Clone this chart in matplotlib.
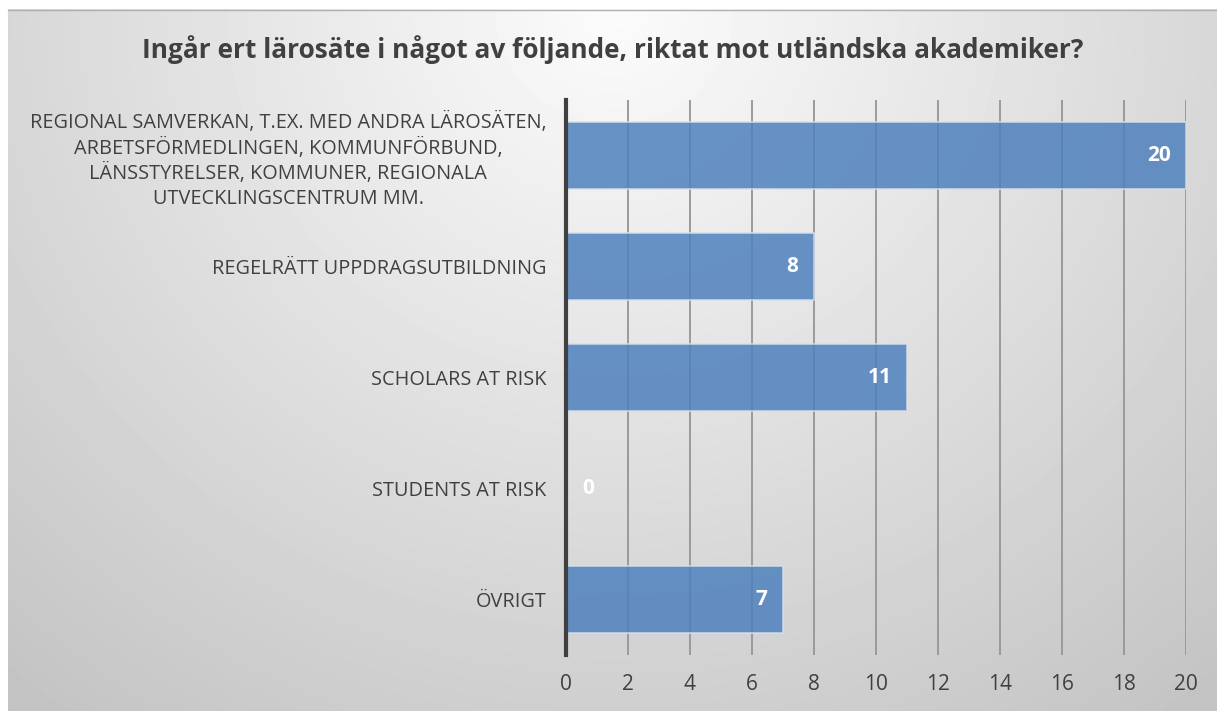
import numpy as np
import matplotlib
matplotlib.use('Agg')
import matplotlib.pyplot as plt

categories = [
    'REGIONAL SAMVERKAN, T.EX. MED ANDRA LÄROSÄTEN,\nARBETSFÖRMEDLINGEN, KOMMUNFÖRBUND,\nLÄNSSTYRELSER, KOMMUNER, REGIONALA\nUTVECKLINGSCENTRUM MM.',
    'REGELRÄTT UPPDRAGSUTBILDNING',
    'SCHOLARS AT RISK',
    'STUDENTS AT RISK',
    'ÖVRIGT',
]
values = [20, 8, 11, 0, 7]
xticks = [0, 2, 4, 6, 8, 10, 12, 14, 16, 18, 20]
title = 'Ingår ert lärosäte i något av följande, riktat mot utländska akademiker?'

plt.rcParams['font.family'] = ['Open Sans', 'DejaVu Sans']

W, H = 1217, 711
fig = plt.figure(figsize=(W / 100, H / 100), dpi=100)
fig.patch.set_facecolor('white')

# radial grey background (chart area starts a few px in from top/left)
bg = fig.add_axes([8 / W, 0, 1 - 8 / W, 1 - 9 / H])
yy, xx = np.mgrid[0:200, 0:340]
d = np.sqrt(((xx - 170) / 240.0) ** 2 + ((yy - 0) / 230.0) ** 2)
shade = 0.985 - 0.20 * np.clip(d, 0, 1.2)
bg.imshow(shade, cmap='gray', vmin=0, vmax=1, aspect='auto', interpolation='bicubic')
bg.set_axis_off()
fig.add_artist(plt.Line2D([8 / W, 1], [1 - 9.5 / H, 1 - 9.5 / H], color='#b0b0b0', lw=1))

ax = fig.add_axes([566 / W, 1 - 655 / H, (1186 - 566) / W, (655 - 100) / H])
ax.patch.set_alpha(0)
pos = np.arange(len(categories))
bars = ax.barh(pos, values, height=0.6, color='#4f81bd', alpha=0.85,
               edgecolor='#d6e0ee', linewidth=1.2, zorder=3)
ax.set_ylim(len(categories) - 0.5, -0.5)
ax.set_xlim(0, 20)
ax.set_xticks(xticks)
ax.set_xticklabels([str(t) for t in xticks], fontsize=15, color='#404040')
ax.set_yticks(pos)
ax.set_yticklabels(categories, fontsize=14.3, color='#404040', linespacing=1.3,
                   multialignment='center')
ax.tick_params(length=0, pad=14)
ax.tick_params(axis='x', pad=14)
ax.grid(axis='x', color='#9a9a9a', lw=1.4, zorder=1)
for s in ['top', 'right', 'bottom']:
    ax.spines[s].set_visible(False)
ax.spines['left'].set_color('#404040')
ax.spines['left'].set_linewidth(3)
ax.spines['left'].set_zorder(4)

for p, v in zip(pos, values):
    ax.text(v + 0.7 if v == 0 else v - 0.5, p, str(v), ha='right' if v else 'center',
            va='center', color='white', fontsize=15, fontweight='bold', zorder=5)

fig.text(0.5 + 8 / W / 2, 1 - 50 / H, title, ha='center', va='center',
         fontsize=18.9, fontweight='bold', color='#404040')

fig.savefig('out.png', dpi=100)
